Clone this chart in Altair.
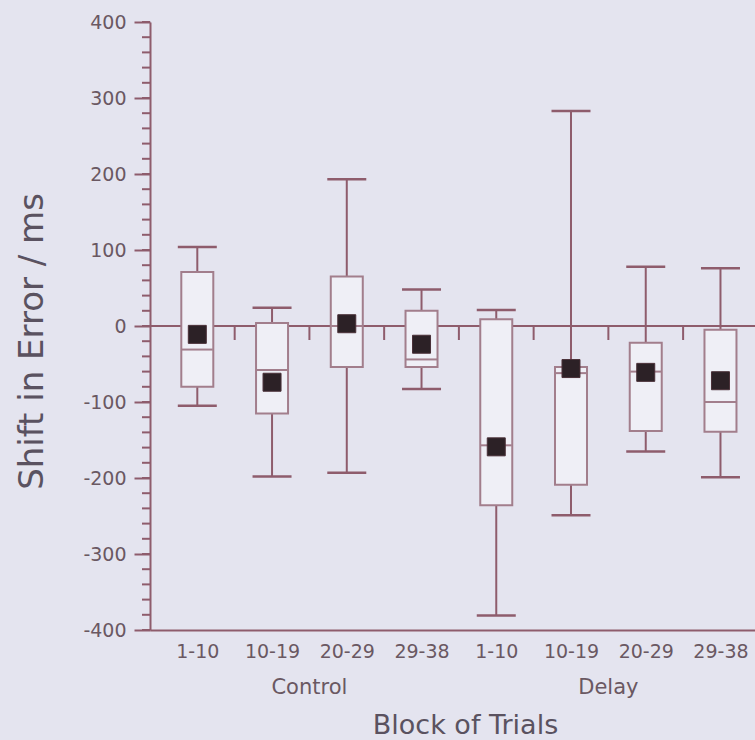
import json
import altair as alt
import pandas as pd

# ---- data ----
groups = ["Control", "Control", "Control", "Control", "Delay", "Delay", "Delay", "Delay"]
blocks = ["1-10", "10-19", "20-29", "29-38", "1-10", "10-19", "20-29", "29-38"]
upper = [104, 24, 193, 48, 21, 283, 78, 76]
q3 = [71, 4, 65, 20, 9, -54, -22, -5]
median = [-31, -58, 0, -44, -157, -62, -60, -100]
mean = [-11, -74, 3, -24, -159, -56, -61, -72]
q1 = [-80, -115, -54, -54, -236, -209, -138, -139]
lower = [-105, -198, -193, -83, -381, -249, -165, -199]
group_names = ["Control", "Delay"]
y_major = [-400, -300, -200, -100, 0, 100, 200, 300, 400]
y_minor = list(range(-400, 401, 20))

pos = list(range(1, len(blocks) + 1))
df = pd.DataFrame({
    "pos": pos, "group": groups, "block": blocks,
    "upper": upper, "q3": q3, "median": median, "mean": mean,
    "q1": q1, "lower": lower,
})
df_zero = pd.DataFrame({"zero": [0]})
df_bound = pd.DataFrame({"b": [p + 0.5 for p in pos[:-1]], "zero": 0})
df_minor = pd.DataFrame({"v": y_minor})
df_groups = pd.DataFrame({
    "name": group_names,
    "center": [sum(p for p, g in zip(pos, groups) if g == n) / groups.count(n) for n in group_names],
})

# ---- styling ----
BG = "#e4e4ef"
LINE = "#8e5c6c"
BOXSTROKE = "#a27e8c"
BOXFILL = "#efeff6"
TXT = "#6a5862"
TITLE = "#5a5260"
FONT = "DejaVu Sans"

W, H = 605, 608

xs = alt.Scale(domain=[0.434, 8.395], nice=False, zero=False)
ys = alt.Scale(domain=[-400, 400], nice=False, zero=False)

xaxis = alt.Axis(
    values=pos,
    labelExpr=json.dumps(blocks) + "[datum.value - 1]",
    tickSize=0, labelFontSize=19, labelPadding=12, labelColor=TXT,
    labelFlush=False, labelOverlap=False,
    domainColor=LINE, domainWidth=2, grid=False,
    title="Block of Trials", titleFontSize=27, titleColor=TITLE,
    titleFontWeight="normal", titleX=315, titleY=103,
    titleBaseline="alphabetic", titleAlign="center",
)
yaxis = alt.Axis(
    values=y_major, labelExpr="'' + datum.value",
    tickSize=16, tickWidth=2, tickColor=LINE, labelPadding=8,
    labelFontSize=19, labelColor=TXT, labelFlush=False,
    domainColor=LINE, domainWidth=2, grid=False,
    title="Shift in Error / ms", titleFontSize=34, titleColor=TITLE,
    titleFontWeight="normal", titleX=-108, titleY=319, titleAngle=270,
    titleBaseline="alphabetic", titleAlign="center",
)


def X(f):
    return alt.X(f, type="quantitative", scale=xs, axis=xaxis, title="Block of Trials")


def Y(f):
    return alt.Y(f, type="quantitative", scale=ys, axis=yaxis, title="Shift in Error / ms")


def Y2(f):
    return alt.Y2(f)


zero_line = alt.Chart(df_zero).mark_rule(color=LINE, strokeWidth=2).encode(y=Y("zero"))
bounds = alt.Chart(df_bound).mark_tick(
    orient="vertical", size=14, thickness=2, color=LINE, yOffset=7, opacity=1
).encode(x=X("b"), y=Y("zero"))

base = alt.Chart(df)
whisk = base.mark_rule(color=LINE, strokeWidth=2).encode(x=X("pos"), y=Y("lower"), y2=Y2("upper"))
cap_hi = base.mark_tick(orient="horizontal", size=39, thickness=2.5, color=LINE, opacity=1).encode(
    x=X("pos"), y=Y("upper"))
cap_lo = base.mark_tick(orient="horizontal", size=39, thickness=2.5, color=LINE, opacity=1).encode(
    x=X("pos"), y=Y("lower"))
box = base.mark_bar(size=32, fill=BOXFILL, stroke=BOXSTROKE, strokeWidth=2, opacity=1).encode(
    x=X("pos"), y=Y("q1"), y2=Y2("q3"))
med = base.mark_tick(orient="horizontal", size=31, thickness=2, color=BOXSTROKE, opacity=1).encode(
    x=X("pos"), y=Y("median"))
mn = base.mark_square(size=324, filled=True, color="#2c2126", stroke="#4a3038",
                      strokeWidth=1, opacity=1).encode(x=X("pos"), y=Y("mean"))

minor = alt.Chart(df_minor).mark_tick(
    orient="horizontal", size=8, thickness=2, color=LINE, opacity=1
).encode(x=alt.value(-4), y=Y("v"))

glabels = alt.Chart(df_groups).mark_text(
    font=FONT, fontSize=21, color=TXT, baseline="alphabetic", align="center"
).encode(x=X("center"), y=alt.value(672), text="name:N")

chart = alt.layer(
    zero_line, bounds, whisk, cap_hi, cap_lo, box, med, mn, minor, glabels
).properties(
    width=W, height=H,
    autosize=alt.AutoSizeParams(type="none"),
    padding={"left": 150, "top": 22, "right": 0, "bottom": 110},
    background=BG,
).configure_view(stroke=None).configure_axis(
    labelFont=FONT, titleFont=FONT
)

chart.save("out.html", embed_options={"renderer": "svg", "actions": False})
